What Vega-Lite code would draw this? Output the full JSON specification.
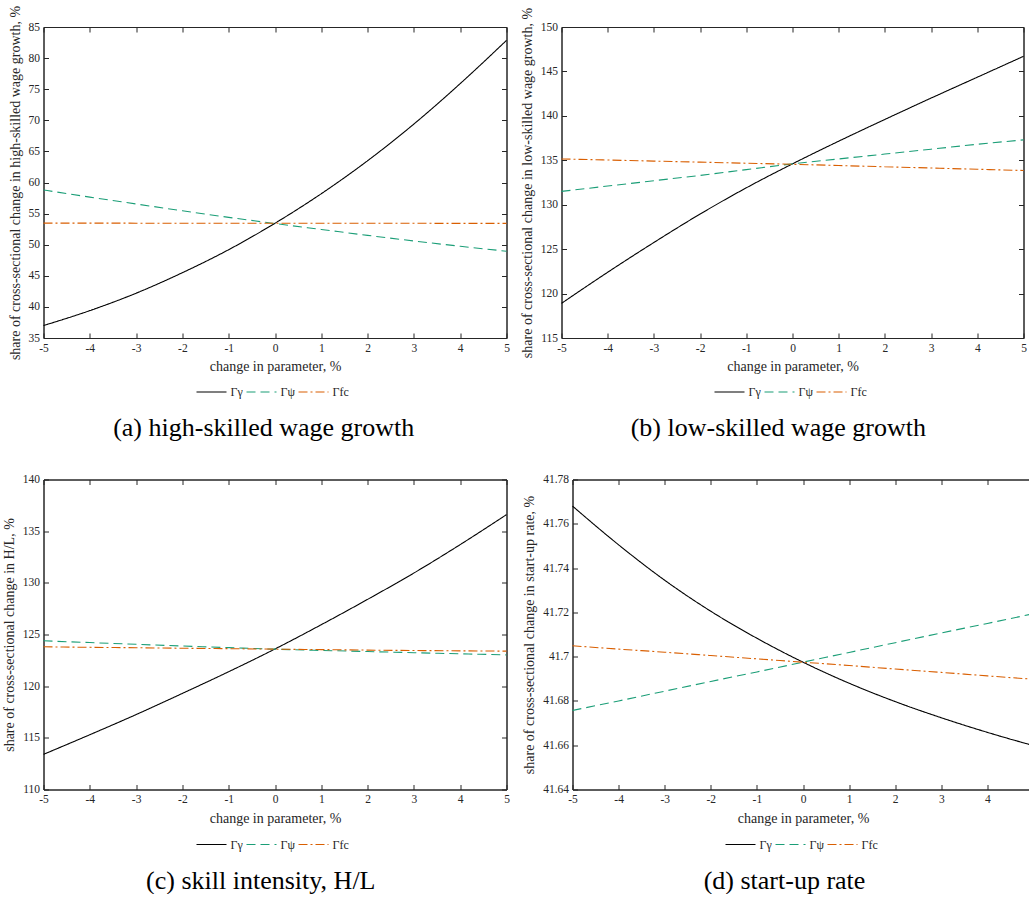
{
  "$schema": "https://vega.github.io/schema/vega-lite/v6.json",
  "padding": {"left": 1.5, "top": 4, "right": 0, "bottom": 0},
  "autosize": {"type": "pad"},
  "spacing": 30.5,
  "datasets": {
    "a": [
      {"x": -5, "y": 37.0, "s": "Γγ"}, {"x": -4, "y": 39.4, "s": "Γγ"}, {"x": -3, "y": 42.2, "s": "Γγ"}, {"x": -2, "y": 45.5, "s": "Γγ"}, {"x": -1, "y": 49.2, "s": "Γγ"}, {"x": 0, "y": 53.45, "s": "Γγ"}, {"x": 1, "y": 58.2, "s": "Γγ"}, {"x": 2, "y": 63.5, "s": "Γγ"}, {"x": 3, "y": 69.4, "s": "Γγ"}, {"x": 4, "y": 75.9, "s": "Γγ"}, {"x": 5, "y": 82.85, "s": "Γγ"},
      {"x": -5, "y": 58.8, "s": "Γψ"}, {"x": -4, "y": 57.65, "s": "Γψ"}, {"x": -3, "y": 56.55, "s": "Γψ"}, {"x": -2, "y": 55.45, "s": "Γψ"}, {"x": -1, "y": 54.4, "s": "Γψ"}, {"x": 0, "y": 53.4, "s": "Γψ"}, {"x": 1, "y": 52.45, "s": "Γψ"}, {"x": 2, "y": 51.5, "s": "Γψ"}, {"x": 3, "y": 50.6, "s": "Γψ"}, {"x": 4, "y": 49.75, "s": "Γψ"}, {"x": 5, "y": 48.95, "s": "Γψ"},
      {"x": -5, "y": 53.47, "s": "Γfc"}, {"x": -4, "y": 53.47, "s": "Γfc"}, {"x": -3, "y": 53.46, "s": "Γfc"}, {"x": -2, "y": 53.46, "s": "Γfc"}, {"x": -1, "y": 53.45, "s": "Γfc"}, {"x": 0, "y": 53.45, "s": "Γfc"}, {"x": 1, "y": 53.45, "s": "Γfc"}, {"x": 2, "y": 53.44, "s": "Γfc"}, {"x": 3, "y": 53.44, "s": "Γfc"}, {"x": 4, "y": 53.43, "s": "Γfc"}, {"x": 5, "y": 53.43, "s": "Γfc"}
    ],
    "b": [
      {"x": -5, "y": 118.9, "s": "Γγ"}, {"x": -4, "y": 122.4, "s": "Γγ"}, {"x": -3, "y": 125.75, "s": "Γγ"}, {"x": -2, "y": 128.95, "s": "Γγ"}, {"x": -1, "y": 131.9, "s": "Γγ"}, {"x": 0, "y": 134.6, "s": "Γγ"}, {"x": 1, "y": 137.15, "s": "Γγ"}, {"x": 2, "y": 139.6, "s": "Γγ"}, {"x": 3, "y": 142.0, "s": "Γγ"}, {"x": 4, "y": 144.35, "s": "Γγ"}, {"x": 5, "y": 146.7, "s": "Γγ"},
      {"x": -5, "y": 131.5, "s": "Γψ"}, {"x": -4, "y": 132.1, "s": "Γψ"}, {"x": -3, "y": 132.7, "s": "Γψ"}, {"x": -2, "y": 133.3, "s": "Γψ"}, {"x": -1, "y": 133.95, "s": "Γψ"}, {"x": 0, "y": 134.6, "s": "Γψ"}, {"x": 1, "y": 135.15, "s": "Γψ"}, {"x": 2, "y": 135.7, "s": "Γψ"}, {"x": 3, "y": 136.25, "s": "Γψ"}, {"x": 4, "y": 136.8, "s": "Γψ"}, {"x": 5, "y": 137.3, "s": "Γψ"},
      {"x": -5, "y": 135.15, "s": "Γfc"}, {"x": -4, "y": 135.03, "s": "Γfc"}, {"x": -3, "y": 134.91, "s": "Γfc"}, {"x": -2, "y": 134.79, "s": "Γfc"}, {"x": -1, "y": 134.67, "s": "Γfc"}, {"x": 0, "y": 134.55, "s": "Γfc"}, {"x": 1, "y": 134.41, "s": "Γfc"}, {"x": 2, "y": 134.27, "s": "Γfc"}, {"x": 3, "y": 134.13, "s": "Γfc"}, {"x": 4, "y": 133.99, "s": "Γfc"}, {"x": 5, "y": 133.85, "s": "Γfc"}
    ],
    "c": [
      {"x": -5, "y": 113.4, "s": "Γγ"}, {"x": -4, "y": 115.3, "s": "Γγ"}, {"x": -3, "y": 117.25, "s": "Γγ"}, {"x": -2, "y": 119.3, "s": "Γγ"}, {"x": -1, "y": 121.4, "s": "Γγ"}, {"x": 0, "y": 123.6, "s": "Γγ"}, {"x": 1, "y": 125.95, "s": "Γγ"}, {"x": 2, "y": 128.4, "s": "Γγ"}, {"x": 3, "y": 130.95, "s": "Γγ"}, {"x": 4, "y": 133.7, "s": "Γγ"}, {"x": 5, "y": 136.6, "s": "Γγ"},
      {"x": -5, "y": 124.39, "s": "Γψ"}, {"x": -4, "y": 124.22, "s": "Γψ"}, {"x": -3, "y": 124.05, "s": "Γψ"}, {"x": -2, "y": 123.89, "s": "Γψ"}, {"x": -1, "y": 123.73, "s": "Γψ"}, {"x": 0, "y": 123.58, "s": "Γψ"}, {"x": 1, "y": 123.46, "s": "Γψ"}, {"x": 2, "y": 123.35, "s": "Γψ"}, {"x": 3, "y": 123.24, "s": "Γψ"}, {"x": 4, "y": 123.13, "s": "Γψ"}, {"x": 5, "y": 123.03, "s": "Γψ"},
      {"x": -5, "y": 123.81, "s": "Γfc"}, {"x": -4, "y": 123.76, "s": "Γfc"}, {"x": -3, "y": 123.72, "s": "Γfc"}, {"x": -2, "y": 123.67, "s": "Γfc"}, {"x": -1, "y": 123.63, "s": "Γfc"}, {"x": 0, "y": 123.58, "s": "Γfc"}, {"x": 1, "y": 123.54, "s": "Γfc"}, {"x": 2, "y": 123.49, "s": "Γfc"}, {"x": 3, "y": 123.45, "s": "Γfc"}, {"x": 4, "y": 123.42, "s": "Γfc"}, {"x": 5, "y": 123.39, "s": "Γfc"}
    ],
    "d": [
      {"x": -5, "y": 41.768, "s": "Γγ"}, {"x": -4, "y": 41.7505, "s": "Γγ"}, {"x": -3, "y": 41.7345, "s": "Γγ"}, {"x": -2, "y": 41.7205, "s": "Γγ"}, {"x": -1, "y": 41.7083, "s": "Γγ"}, {"x": 0, "y": 41.6975, "s": "Γγ"}, {"x": 1, "y": 41.688, "s": "Γγ"}, {"x": 2, "y": 41.6797, "s": "Γγ"}, {"x": 3, "y": 41.6724, "s": "Γγ"}, {"x": 4, "y": 41.6658, "s": "Γγ"}, {"x": 5, "y": 41.6598, "s": "Γγ"},
      {"x": -5, "y": 41.6757, "s": "Γψ"}, {"x": -4, "y": 41.68, "s": "Γψ"}, {"x": -3, "y": 41.6844, "s": "Γψ"}, {"x": -2, "y": 41.6888, "s": "Γψ"}, {"x": -1, "y": 41.6931, "s": "Γψ"}, {"x": 0, "y": 41.6975, "s": "Γψ"}, {"x": 1, "y": 41.7019, "s": "Γψ"}, {"x": 2, "y": 41.7063, "s": "Γψ"}, {"x": 3, "y": 41.7107, "s": "Γψ"}, {"x": 4, "y": 41.715, "s": "Γψ"}, {"x": 5, "y": 41.7194, "s": "Γψ"},
      {"x": -5, "y": 41.7049, "s": "Γfc"}, {"x": -4, "y": 41.7034, "s": "Γfc"}, {"x": -3, "y": 41.702, "s": "Γfc"}, {"x": -2, "y": 41.7005, "s": "Γfc"}, {"x": -1, "y": 41.699, "s": "Γfc"}, {"x": 0, "y": 41.6975, "s": "Γfc"}, {"x": 1, "y": 41.696, "s": "Γfc"}, {"x": 2, "y": 41.6944, "s": "Γfc"}, {"x": 3, "y": 41.6929, "s": "Γfc"}, {"x": 4, "y": 41.6913, "s": "Γfc"}, {"x": 5, "y": 41.6898, "s": "Γfc"}
    ]
  },
  "vconcat": [
    {
      "spacing": 9,
      "resolve": {"scale": {"color": "independent", "strokeDash": "independent"}, "legend": {"color": "independent", "strokeDash": "independent"}},
      "hconcat": [
        {
          "width": 463, "height": 311,
          "data": {"name": "a"},
          "title": {"text": "(a) high-skilled wage growth"},
          "resolve": {"axis": {"x": "independent", "y": "independent"}},
          "layer": [
            {
              "mark": {"type": "line", "interpolate": "monotone", "strokeWidth": 1.1},
              "encoding": {
                "x": {"field": "x", "type": "quantitative", "scale": {"domain": [-5, 5], "nice": false, "zero": false}, "axis": {"orient": "bottom", "title": "change in parameter, %", "values": [-5,-4,-3,-2,-1,0,1,2,3,4,5], "labelExpr": "'' + datum.value"}},
                "y": {"field": "y", "type": "quantitative", "scale": {"domain": [35, 85], "nice": false, "zero": false}, "axis": {"orient": "left", "title": "share of cross-sectional change in high-skilled wage growth, %", "values": [35,40,45,50,55,60,65,70,75,80,85]}},
                "color": {"field": "s", "type": "nominal", "scale": {"domain": ["Γγ","Γψ","Γfc"], "range": ["#000000","#1b9e77","#d95f02"]}, "legend": {"orient": "none", "legendX": 152, "legendY": 349, "direction": "horizontal", "title": null}},
                "strokeDash": {"field": "s", "type": "nominal", "scale": {"domain": ["Γγ","Γψ","Γfc"], "range": [[1,0],[9,5],[9,3,2,3]]}, "legend": {"orient": "none", "legendX": 152, "legendY": 349, "direction": "horizontal", "title": null}}
              }
            },
            {
              "mark": {"type": "point", "opacity": 0},
              "encoding": {
                "x": {"field": "x", "type": "quantitative", "axis": {"orient": "top", "labels": false, "title": null, "values": [-5,-4,-3,-2,-1,0,1,2,3,4,5]}},
                "y": {"field": "y", "type": "quantitative", "axis": {"orient": "right", "labels": false, "title": null, "values": [35,40,45,50,55,60,65,70,75,80,85]}}
              }
            }
          ]
        },
        {
          "width": 462, "height": 311,
          "data": {"name": "b"},
          "title": {"text": "(b) low-skilled wage growth"},
          "resolve": {"axis": {"x": "independent", "y": "independent"}},
          "layer": [
            {
              "mark": {"type": "line", "interpolate": "monotone", "strokeWidth": 1.1},
              "encoding": {
                "x": {"field": "x", "type": "quantitative", "scale": {"domain": [-5, 5], "nice": false, "zero": false}, "axis": {"orient": "bottom", "title": "change in parameter, %", "values": [-5,-4,-3,-2,-1,0,1,2,3,4,5], "labelExpr": "'' + datum.value"}},
                "y": {"field": "y", "type": "quantitative", "scale": {"domain": [115, 150], "nice": false, "zero": false}, "axis": {"orient": "left", "title": "share of cross-sectional change in low-skilled wage growth, %", "values": [115,120,125,130,135,140,145,150]}},
                "color": {"field": "s", "type": "nominal", "scale": {"domain": ["Γγ","Γψ","Γfc"], "range": ["#000000","#1b9e77","#d95f02"]}, "legend": {"orient": "none", "legendX": 152, "legendY": 349, "direction": "horizontal", "title": null}},
                "strokeDash": {"field": "s", "type": "nominal", "scale": {"domain": ["Γγ","Γψ","Γfc"], "range": [[1,0],[9,5],[9,3,2,3]]}, "legend": {"orient": "none", "legendX": 152, "legendY": 349, "direction": "horizontal", "title": null}}
              }
            },
            {
              "mark": {"type": "point", "opacity": 0},
              "encoding": {
                "x": {"field": "x", "type": "quantitative", "axis": {"orient": "top", "labels": false, "title": null, "values": [-5,-4,-3,-2,-1,0,1,2,3,4,5]}},
                "y": {"field": "y", "type": "quantitative", "axis": {"orient": "right", "labels": false, "title": null, "values": [115,120,125,130,135,140,145,150]}}
              }
            }
          ]
        }
      ]
    },
    {
      "spacing": 11,
      "resolve": {"scale": {"color": "independent", "strokeDash": "independent"}, "legend": {"color": "independent", "strokeDash": "independent"}},
      "hconcat": [
        {
          "width": 463, "height": 310,
          "data": {"name": "c"},
          "title": {"text": "(c) skill intensity, H/L"},
          "resolve": {"axis": {"x": "independent", "y": "independent"}},
          "layer": [
            {
              "mark": {"type": "line", "interpolate": "monotone", "strokeWidth": 1.1},
              "encoding": {
                "x": {"field": "x", "type": "quantitative", "scale": {"domain": [-5, 5], "nice": false, "zero": false}, "axis": {"orient": "bottom", "title": "change in parameter, %", "values": [-5,-4,-3,-2,-1,0,1,2,3,4,5], "labelExpr": "'' + datum.value"}},
                "y": {"field": "y", "type": "quantitative", "scale": {"domain": [110, 140], "nice": false, "zero": false}, "axis": {"orient": "left", "title": "share of cross-sectional change in H/L, %", "values": [110,115,120,125,130,135,140]}},
                "color": {"field": "s", "type": "nominal", "scale": {"domain": ["Γγ","Γψ","Γfc"], "range": ["#000000","#1b9e77","#d95f02"]}, "legend": {"orient": "none", "legendX": 152, "legendY": 349, "direction": "horizontal", "title": null}},
                "strokeDash": {"field": "s", "type": "nominal", "scale": {"domain": ["Γγ","Γψ","Γfc"], "range": [[1,0],[9,5],[9,3,2,3]]}, "legend": {"orient": "none", "legendX": 152, "legendY": 349, "direction": "horizontal", "title": null}}
              }
            },
            {
              "mark": {"type": "point", "opacity": 0},
              "encoding": {
                "x": {"field": "x", "type": "quantitative", "axis": {"orient": "top", "labels": false, "title": null, "values": [-5,-4,-3,-2,-1,0,1,2,3,4,5]}},
                "y": {"field": "y", "type": "quantitative", "axis": {"orient": "right", "labels": false, "title": null, "values": [110,115,120,125,130,135,140]}}
              }
            }
          ]
        },
        {
          "width": 461, "height": 310,
          "data": {"name": "d"},
          "title": {"text": "(d) start-up rate"},
          "resolve": {"axis": {"x": "independent", "y": "independent"}},
          "layer": [
            {
              "mark": {"type": "line", "interpolate": "monotone", "strokeWidth": 1.1},
              "encoding": {
                "x": {"field": "x", "type": "quantitative", "scale": {"domain": [-5, 5], "nice": false, "zero": false}, "axis": {"orient": "bottom", "title": "change in parameter, %", "values": [-5,-4,-3,-2,-1,0,1,2,3,4,5], "labelExpr": "'' + datum.value"}},
                "y": {"field": "y", "type": "quantitative", "scale": {"domain": [41.64, 41.78], "nice": false, "zero": false}, "axis": {"orient": "left", "title": "share of cross-sectional change in start-up rate, %", "values": [41.64,41.66,41.68,41.7,41.72,41.74,41.76,41.78], "format": "~g"}},
                "color": {"field": "s", "type": "nominal", "scale": {"domain": ["Γγ","Γψ","Γfc"], "range": ["#000000","#1b9e77","#d95f02"]}, "legend": {"orient": "none", "legendX": 152, "legendY": 349, "direction": "horizontal", "title": null}},
                "strokeDash": {"field": "s", "type": "nominal", "scale": {"domain": ["Γγ","Γψ","Γfc"], "range": [[1,0],[9,5],[9,3,2,3]]}, "legend": {"orient": "none", "legendX": 152, "legendY": 349, "direction": "horizontal", "title": null}}
              }
            },
            {
              "mark": {"type": "point", "opacity": 0},
              "encoding": {
                "x": {"field": "x", "type": "quantitative", "axis": {"orient": "top", "labels": false, "title": null, "values": [-5,-4,-3,-2,-1,0,1,2,3,4,5]}},
                "y": {"field": "y", "type": "quantitative", "axis": {"orient": "right", "labels": false, "title": null, "values": [41.64,41.66,41.68,41.7,41.72,41.74,41.76,41.78]}}
              }
            }
          ]
        }
      ]
    }
  ],
  "resolve": {"scale": {"color": "independent", "strokeDash": "independent"}, "legend": {"color": "independent", "strokeDash": "independent"}},
  "config": {
    "font": "Liberation Serif",
    "background": "#ffffff",
    "view": {"stroke": "#262626", "strokeWidth": 1},
    "axis": {
      "grid": false,
      "domainColor": "#262626",
      "tickColor": "#262626",
      "tickSize": -5,
      "labelPadding": 9,
      "labelFont": "Liberation Serif",
      "labelFontSize": 11.5,
      "labelColor": "#262626",
      "labelFlush": false,
      "labelOverlap": false,
      "titleFont": "Liberation Serif",
      "titleFontSize": 14,
      "titleFontWeight": "normal",
      "titleColor": "#262626",
      "titlePadding": 6
    },
    "legend": {
      "symbolType": "stroke",
      "symbolSize": 900,
      "symbolStrokeWidth": 1.2,
      "labelFont": "Liberation Serif",
      "labelFontSize": 12,
      "labelColor": "#262626",
      "labelOffset": 3,
      "columnPadding": 0,
      "padding": 0
    },
    "title": {
      "orient": "bottom",
      "anchor": "middle",
      "frame": "bounds",
      "offset": 17,
      "dx": 5,
      "font": "Liberation Serif",
      "fontSize": 26,
      "fontWeight": "normal",
      "color": "#000000"
    }
  }
}
